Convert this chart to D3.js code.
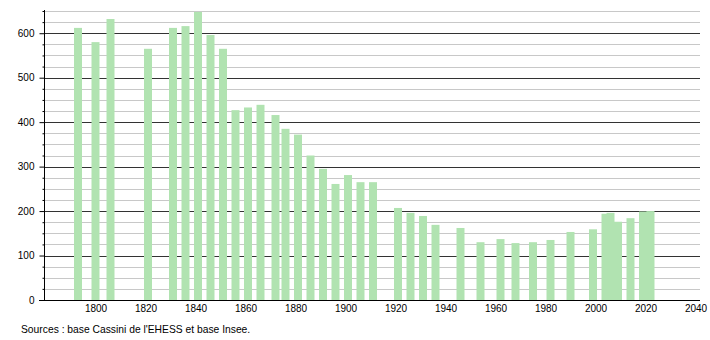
<!DOCTYPE html>
<html>
<head>
<meta charset="utf-8">
<script src="https://cdn.jsdelivr.net/npm/d3@7"></script>
<style>
  html, body { margin: 0; padding: 0; background: #fff; }
  text { font-family: "Liberation Sans", Arial, sans-serif; }
</style>
</head>
<body>
<svg id="chart" width="710" height="340"></svg>
<script>
const years = [1793, 1800, 1806, 1821, 1831, 1836, 1841, 1846, 1851, 1856, 1861, 1866, 1872, 1876, 1881, 1886, 1891, 1896, 1901, 1906, 1911, 1921, 1926, 1931, 1936, 1946, 1954, 1962, 1968, 1975, 1982, 1990, 1999, 2004, 2006, 2009, 2014, 2019, 2022];
const population = [612, 580, 632, 565, 612, 616, 648, 596, 565, 427, 433, 439, 416, 385, 372, 325, 295, 261, 281, 265, 265, 207, 196, 189, 169, 162, 130, 137, 128, 130, 135, 153, 159, 194, 196, 176, 184, 199, 200];
const xTicks = [1800, 1820, 1840, 1860, 1880, 1900, 1920, 1940, 1960, 1980, 2000, 2020, 2040];
const yMajorTicks = [0, 100, 200, 300, 400, 500, 600];
const sourceText = "Sources : base Cassini de l'EHESS et base Insee.";

(function () {
const svg = d3.select("#chart");
const mLeft = 44, mRight = 700, mTop = 11, mBottom = 300;

const x = d3.scaleLinear().domain([1800, 2040]).range([95.5, 695.5]);
const y = d3.scaleLinear().domain([0, 650]).range([mBottom, mTop]);

// grid lines (minor every 25, major every 100)
const minor = d3.range(25, 651, 25).filter(v => v % 100 !== 0);
svg.append("g").selectAll("line").data(minor).join("line")
  .attr("x1", mLeft).attr("x2", mRight)
  .attr("y1", d => Math.round(y(d)) + 0.5).attr("y2", d => Math.round(y(d)) + 0.5)
  .attr("stroke", "#c8c8c8").attr("stroke-width", 1);
svg.append("g").selectAll("line").data(yMajorTicks.filter(v => v > 0)).join("line")
  .attr("x1", mLeft).attr("x2", mRight)
  .attr("y1", d => Math.round(y(d)) + 0.5).attr("y2", d => Math.round(y(d)) + 0.5)
  .attr("stroke", "#333").attr("stroke-width", 1);

// bars
const bw = 8;
svg.append("g").selectAll("rect").data(years).join("rect")
  .attr("x", (d) => x(d) - bw / 2)
  .attr("y", (d, i) => y(population[i]))
  .attr("width", bw)
  .attr("height", (d, i) => y(0) - y(population[i]))
  .attr("fill", "#b1e3b1");

// y axis
const yAxis = d3.axisLeft(y).tickValues(d3.range(0, 651, 25))
  .tickSize(2).tickFormat(d => d % 100 === 0 ? d : "");
const gy = svg.append("g").attr("transform", `translate(${mLeft + 0.5},0)`).call(yAxis);
gy.select(".domain").remove();
gy.append("line").attr("x1", 0).attr("x2", 0).attr("y1", mTop - 1).attr("y2", mBottom + 0.5)
  .attr("stroke", "#000");
gy.selectAll(".tick line").attr("stroke", "#000")
  .attr("x2", d => d % 100 === 0 ? -5 : -2);
gy.selectAll(".tick text").attr("x", -10).attr("font-size", 10)
  .attr("font-family", "Liberation Sans, Arial, sans-serif").attr("fill", "#000");

// x axis
const xAxis = d3.axisBottom(x).tickValues(xTicks).tickSize(0).tickFormat(d3.format("d"));
const gx = svg.append("g").attr("transform", `translate(0,${mBottom + 0.5})`).call(xAxis);
gx.select(".domain").remove();
gx.append("line").attr("x1", mLeft - 5).attr("x2", mRight).attr("y1", 0).attr("y2", 0)
  .attr("stroke", "#000");
gx.selectAll(".tick text").attr("y", 4).attr("dy", "0.71em").attr("font-size", 10)
  .attr("font-family", "Liberation Sans, Arial, sans-serif").attr("fill", "#000");

// source
svg.append("text").attr("x", 21).attr("y", 333).attr("font-size", 10.3)
  .attr("fill", "#000").text(sourceText);
})();
</script>
</body>
</html>
